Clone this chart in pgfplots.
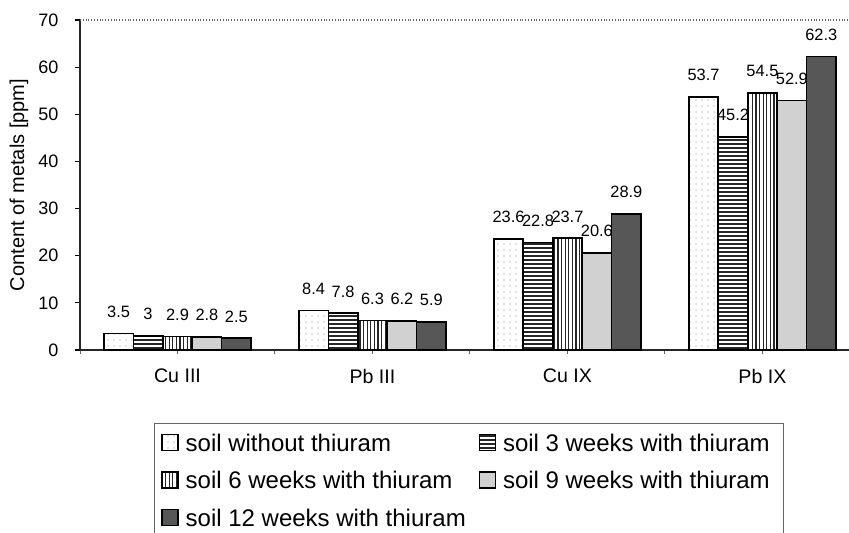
\documentclass[border=0pt]{standalone}
\usepackage{fontspec}
\setmainfont{Liberation Sans}
\usepackage{pgfplots}
\pgfplotsset{compat=1.18}
\usetikzlibrary{patterns,patterns.meta}

\begin{document}
\begin{tikzpicture}
\clip (0,0) rectangle (424.5pt,-266pt);
\begin{axis}[
  at={(40pt,-175pt)}, anchor=south west,
  scale only axis, width=384.5pt, height=165pt,
  xmin=0, xmax=3.944, ymin=0, ymax=70,
  ybar=0pt, bar width=0.151,
  axis x line*=bottom, axis y line*=left,
  axis line style={-, line width=0.8pt, black!85},
  tick align=outside,
  ytick={0,10,...,70},
  ytick style={black, line width=0.6pt, /pgfplots/major tick length=2.6pt},
  yticklabel style={font=\fontsize{9}{10}\selectfont, xshift=-3pt},
  xtick={0,1,2,3}, xticklabels={},
  xtick style={black!60, line width=0.5pt, /pgfplots/major tick length=2pt},
  extra x ticks={0.5,1.5,2.5,3.5},
  extra x tick labels={Cu III,Pb III,Cu IX,Pb IX},
  extra x tick style={major tick length=0pt, xticklabel style={font=\fontsize{9.8}{11}\selectfont, yshift=-6pt}},
  extra y ticks={70}, extra y tick labels={},
  extra y tick style={major tick length=0pt, grid=major, major grid style={densely dotted, black!60, line width=0.7pt}},
  ylabel={Content of metals [ppm]},
  every axis y label/.style={at={(axis description cs:-0.0793,0.5)}, rotate=90, anchor=center, font=\fontsize{10}{12}\selectfont},
  /pgf/number format/assume math mode=true,
  nodes near coords,
  every node near coord/.append style={font=\fontsize{8.2}{9}\selectfont, yshift=4.3pt, text=black},
  every axis plot post/.append style={legend image code/.code={\draw[#1, draw=black, line width=0.6pt] (0pt,-4pt) rectangle (8pt,4pt);}},
  legend columns=2,
  legend cell align=left,
  legend style={at={(axis description cs:0.0962,-0.2212)}, anchor=north west,
    draw=black!60, line width=0.5pt, font=\fontsize{12}{14}\selectfont,
    inner xsep=3.5pt, inner ysep=4pt,
    nodes={inner xsep=3.5pt, inner ysep=1pt, text height=8.8pt, text depth=0pt},
    row sep=8pt,
    /tikz/every even column/.append style={column sep=3pt}},
]
\addplot[draw=black, line width=0.8pt, pattern={Dots[distance=3pt,radius=0.35pt]}, pattern color=black!45, bar shift=-0.302]
  coordinates {(0.5,3.5) (1.5,8.4) (2.5,23.6) (3.5,53.7)};
\addplot[draw=black, line width=0.8pt, pattern={Lines[angle=0,distance=2pt,line width=0.6pt]}, pattern color=black!85, bar shift=-0.151]
  coordinates {(0.5,3) (1.5,7.8) (2.5,22.8) (3.5,45.2)};
\addplot[draw=black, line width=0.8pt, pattern={Lines[angle=90,distance=1.8pt,line width=0.55pt]}, pattern color=black!85, bar shift=0]
  coordinates {(0.5,2.9) (1.5,6.3) (2.5,23.7) (3.5,54.5)};
\addplot[draw=black, line width=0.8pt, fill=black!18, bar shift=0.151]
  coordinates {(0.5,2.8) (1.5,6.2) (2.5,20.6) (3.5,52.9)};
\addplot[draw=black, line width=0.8pt, fill=black!66, bar shift=0.302]
  coordinates {(0.5,2.5) (1.5,5.9) (2.5,28.9) (3.5,62.3)};
\legend{soil without thiuram, soil 3 weeks with thiuram, soil 6 weeks with thiuram, soil 9 weeks with thiuram, soil 12 weeks with thiuram}
\end{axis}
\end{tikzpicture}
\end{document}
